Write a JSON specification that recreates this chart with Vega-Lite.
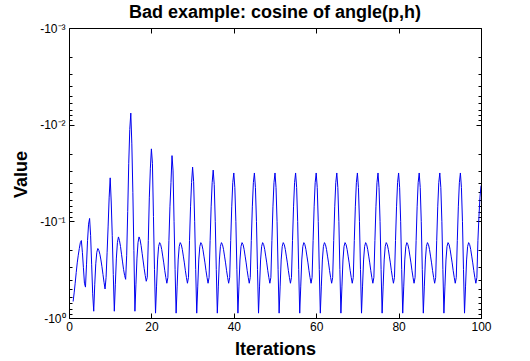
{
"$schema": "https://vega.github.io/schema/vega-lite/v6.json",
"width": 412, "height": 290,
"autosize": "none",
"padding": {"left": 69, "top": 28, "right": 49, "bottom": 43},
"background": "white",
"title": {"text": "Bad example: cosine of angle(p,h)", "font": "Liberation Sans", "fontSize": 18, "fontWeight": "bold", "color": "black", "anchor": "middle", "frame": "group", "baseline": "alphabetic", "offset": 10, "dy": 24},
"datasets": {"d": [
{"iter":1,"value":-0.676},{"iter":1.25,"value":-0.55},{"iter":1.5,"value":-0.437},{"iter":1.75,"value":-0.339},
{"iter":2,"value":-0.269},{"iter":2.25,"value":-0.224},{"iter":2.5,"value":-0.191},{"iter":2.75,"value":-0.166},
{"iter":3,"value":-0.158},{"iter":3.25,"value":-0.209},{"iter":3.5,"value":-0.302},{"iter":3.75,"value":-0.437},
{"iter":4,"value":-0.479},{"iter":4.25,"value":-0.282},{"iter":4.5,"value":-0.158},{"iter":4.75,"value":-0.107},
{"iter":5,"value":-0.0933},{"iter":5.25,"value":-0.141},{"iter":5.5,"value":-0.282},{"iter":5.75,"value":-0.562},
{"iter":6,"value":-0.851},{"iter":6.25,"value":-0.447},{"iter":6.5,"value":-0.275},{"iter":6.75,"value":-0.209},
{"iter":7,"value":-0.191},{"iter":7.25,"value":-0.2},{"iter":7.5,"value":-0.219},{"iter":7.75,"value":-0.251},
{"iter":8,"value":-0.295},{"iter":8.25,"value":-0.355},{"iter":8.5,"value":-0.427},{"iter":8.75,"value":-0.501},
{"iter":9,"value":-0.38},{"iter":9.25,"value":-0.209},{"iter":9.5,"value":-0.112},{"iter":9.75,"value":-0.0562},
{"iter":10,"value":-0.0355},{"iter":10.25,"value":-0.0631},{"iter":10.5,"value":-0.141},{"iter":10.75,"value":-0.355},
{"iter":11,"value":-0.851},{"iter":11.25,"value":-0.447},{"iter":11.5,"value":-0.24},{"iter":11.75,"value":-0.166},
{"iter":12,"value":-0.145},{"iter":12.25,"value":-0.158},{"iter":12.5,"value":-0.182},{"iter":12.75,"value":-0.219},
{"iter":13,"value":-0.263},{"iter":13.25,"value":-0.316},{"iter":13.5,"value":-0.363},{"iter":13.75,"value":-0.398},
{"iter":14,"value":-0.224},{"iter":14.25,"value":-0.0794},{"iter":14.5,"value":-0.0251},{"iter":14.75,"value":-0.0112},
{"iter":15,"value":-0.00759},{"iter":15.25,"value":-0.0158},{"iter":15.5,"value":-0.0501},{"iter":15.75,"value":-0.2},
{"iter":16,"value":-0.851},{"iter":16.25,"value":-0.447},{"iter":16.5,"value":-0.24},{"iter":16.75,"value":-0.166},
{"iter":17,"value":-0.145},{"iter":17.25,"value":-0.155},{"iter":17.5,"value":-0.178},{"iter":17.75,"value":-0.214},
{"iter":18,"value":-0.257},{"iter":18.25,"value":-0.309},{"iter":18.5,"value":-0.363},{"iter":18.75,"value":-0.417},
{"iter":19,"value":-0.38},{"iter":19.25,"value":-0.158},{"iter":19.5,"value":-0.0562},{"iter":19.75,"value":-0.0282},
{"iter":20,"value":-0.0178},{"iter":20.25,"value":-0.0251},{"iter":20.5,"value":-0.0891},{"iter":20.75,"value":-0.316},
{"iter":21,"value":-0.891},{"iter":21.25,"value":-0.468},{"iter":21.5,"value":-0.251},{"iter":21.75,"value":-0.182},
{"iter":22,"value":-0.166},{"iter":22.25,"value":-0.174},{"iter":22.5,"value":-0.195},{"iter":22.75,"value":-0.229},
{"iter":23,"value":-0.269},{"iter":23.25,"value":-0.324},{"iter":23.5,"value":-0.38},{"iter":23.75,"value":-0.437},
{"iter":24,"value":-0.38},{"iter":24.25,"value":-0.158},{"iter":24.5,"value":-0.0708},{"iter":24.75,"value":-0.0398},
{"iter":25,"value":-0.0209},{"iter":25.25,"value":-0.0295},{"iter":25.5,"value":-0.1},{"iter":25.75,"value":-0.316},
{"iter":26,"value":-0.891},{"iter":26.25,"value":-0.468},{"iter":26.5,"value":-0.251},{"iter":26.75,"value":-0.182},
{"iter":27,"value":-0.166},{"iter":27.25,"value":-0.174},{"iter":27.5,"value":-0.195},{"iter":27.75,"value":-0.229},
{"iter":28,"value":-0.269},{"iter":28.25,"value":-0.324},{"iter":28.5,"value":-0.38},{"iter":28.75,"value":-0.437},
{"iter":29,"value":-0.38},{"iter":29.25,"value":-0.158},{"iter":29.5,"value":-0.0708},{"iter":29.75,"value":-0.0398},
{"iter":30,"value":-0.0275},{"iter":30.25,"value":-0.0389},{"iter":30.5,"value":-0.1},{"iter":30.75,"value":-0.316},
{"iter":31,"value":-0.891},{"iter":31.25,"value":-0.468},{"iter":31.5,"value":-0.251},{"iter":31.75,"value":-0.182},
{"iter":32,"value":-0.166},{"iter":32.25,"value":-0.174},{"iter":32.5,"value":-0.195},{"iter":32.75,"value":-0.229},
{"iter":33,"value":-0.269},{"iter":33.25,"value":-0.324},{"iter":33.5,"value":-0.38},{"iter":33.75,"value":-0.437},
{"iter":34,"value":-0.38},{"iter":34.25,"value":-0.158},{"iter":34.5,"value":-0.0708},{"iter":34.75,"value":-0.0398},
{"iter":35,"value":-0.0295},{"iter":35.25,"value":-0.0417},{"iter":35.5,"value":-0.1},{"iter":35.75,"value":-0.316},
{"iter":36,"value":-0.891},{"iter":36.25,"value":-0.468},{"iter":36.5,"value":-0.251},{"iter":36.75,"value":-0.182},
{"iter":37,"value":-0.166},{"iter":37.25,"value":-0.174},{"iter":37.5,"value":-0.195},{"iter":37.75,"value":-0.229},
{"iter":38,"value":-0.269},{"iter":38.25,"value":-0.324},{"iter":38.5,"value":-0.38},{"iter":38.75,"value":-0.437},
{"iter":39,"value":-0.38},{"iter":39.25,"value":-0.158},{"iter":39.5,"value":-0.0708},{"iter":39.75,"value":-0.0398},
{"iter":40,"value":-0.0316},{"iter":40.25,"value":-0.0447},{"iter":40.5,"value":-0.1},{"iter":40.75,"value":-0.316},
{"iter":41,"value":-0.891},{"iter":41.25,"value":-0.468},{"iter":41.5,"value":-0.251},{"iter":41.75,"value":-0.182},
{"iter":42,"value":-0.166},{"iter":42.25,"value":-0.174},{"iter":42.5,"value":-0.195},{"iter":42.75,"value":-0.229},
{"iter":43,"value":-0.269},{"iter":43.25,"value":-0.324},{"iter":43.5,"value":-0.38},{"iter":43.75,"value":-0.437},
{"iter":44,"value":-0.38},{"iter":44.25,"value":-0.158},{"iter":44.5,"value":-0.0708},{"iter":44.75,"value":-0.0398},
{"iter":45,"value":-0.0316},{"iter":45.25,"value":-0.0447},{"iter":45.5,"value":-0.1},{"iter":45.75,"value":-0.316},
{"iter":46,"value":-0.891},{"iter":46.25,"value":-0.468},{"iter":46.5,"value":-0.251},{"iter":46.75,"value":-0.182},
{"iter":47,"value":-0.166},{"iter":47.25,"value":-0.174},{"iter":47.5,"value":-0.195},{"iter":47.75,"value":-0.229},
{"iter":48,"value":-0.269},{"iter":48.25,"value":-0.324},{"iter":48.5,"value":-0.38},{"iter":48.75,"value":-0.437},
{"iter":49,"value":-0.38},{"iter":49.25,"value":-0.158},{"iter":49.5,"value":-0.0708},{"iter":49.75,"value":-0.0398},
{"iter":50,"value":-0.0316},{"iter":50.25,"value":-0.0447},{"iter":50.5,"value":-0.1},{"iter":50.75,"value":-0.316},
{"iter":51,"value":-0.891},{"iter":51.25,"value":-0.468},{"iter":51.5,"value":-0.251},{"iter":51.75,"value":-0.182},
{"iter":52,"value":-0.166},{"iter":52.25,"value":-0.174},{"iter":52.5,"value":-0.195},{"iter":52.75,"value":-0.229},
{"iter":53,"value":-0.269},{"iter":53.25,"value":-0.324},{"iter":53.5,"value":-0.38},{"iter":53.75,"value":-0.437},
{"iter":54,"value":-0.38},{"iter":54.25,"value":-0.158},{"iter":54.5,"value":-0.0708},{"iter":54.75,"value":-0.0398},
{"iter":55,"value":-0.0316},{"iter":55.25,"value":-0.0447},{"iter":55.5,"value":-0.1},{"iter":55.75,"value":-0.316},
{"iter":56,"value":-0.891},{"iter":56.25,"value":-0.468},{"iter":56.5,"value":-0.251},{"iter":56.75,"value":-0.182},
{"iter":57,"value":-0.166},{"iter":57.25,"value":-0.174},{"iter":57.5,"value":-0.195},{"iter":57.75,"value":-0.229},
{"iter":58,"value":-0.269},{"iter":58.25,"value":-0.324},{"iter":58.5,"value":-0.38},{"iter":58.75,"value":-0.437},
{"iter":59,"value":-0.38},{"iter":59.25,"value":-0.158},{"iter":59.5,"value":-0.0708},{"iter":59.75,"value":-0.0398},
{"iter":60,"value":-0.0316},{"iter":60.25,"value":-0.0447},{"iter":60.5,"value":-0.1},{"iter":60.75,"value":-0.316},
{"iter":61,"value":-0.891},{"iter":61.25,"value":-0.468},{"iter":61.5,"value":-0.251},{"iter":61.75,"value":-0.182},
{"iter":62,"value":-0.166},{"iter":62.25,"value":-0.174},{"iter":62.5,"value":-0.195},{"iter":62.75,"value":-0.229},
{"iter":63,"value":-0.269},{"iter":63.25,"value":-0.324},{"iter":63.5,"value":-0.38},{"iter":63.75,"value":-0.437},
{"iter":64,"value":-0.38},{"iter":64.25,"value":-0.158},{"iter":64.5,"value":-0.0708},{"iter":64.75,"value":-0.0398},
{"iter":65,"value":-0.0316},{"iter":65.25,"value":-0.0447},{"iter":65.5,"value":-0.1},{"iter":65.75,"value":-0.316},
{"iter":66,"value":-0.891},{"iter":66.25,"value":-0.468},{"iter":66.5,"value":-0.251},{"iter":66.75,"value":-0.182},
{"iter":67,"value":-0.166},{"iter":67.25,"value":-0.174},{"iter":67.5,"value":-0.195},{"iter":67.75,"value":-0.229},
{"iter":68,"value":-0.269},{"iter":68.25,"value":-0.324},{"iter":68.5,"value":-0.38},{"iter":68.75,"value":-0.437},
{"iter":69,"value":-0.38},{"iter":69.25,"value":-0.158},{"iter":69.5,"value":-0.0708},{"iter":69.75,"value":-0.0398},
{"iter":70,"value":-0.0316},{"iter":70.25,"value":-0.0447},{"iter":70.5,"value":-0.1},{"iter":70.75,"value":-0.316},
{"iter":71,"value":-0.891},{"iter":71.25,"value":-0.468},{"iter":71.5,"value":-0.251},{"iter":71.75,"value":-0.182},
{"iter":72,"value":-0.166},{"iter":72.25,"value":-0.174},{"iter":72.5,"value":-0.195},{"iter":72.75,"value":-0.229},
{"iter":73,"value":-0.269},{"iter":73.25,"value":-0.324},{"iter":73.5,"value":-0.38},{"iter":73.75,"value":-0.437},
{"iter":74,"value":-0.38},{"iter":74.25,"value":-0.158},{"iter":74.5,"value":-0.0708},{"iter":74.75,"value":-0.0398},
{"iter":75,"value":-0.0316},{"iter":75.25,"value":-0.0447},{"iter":75.5,"value":-0.1},{"iter":75.75,"value":-0.316},
{"iter":76,"value":-0.891},{"iter":76.25,"value":-0.468},{"iter":76.5,"value":-0.251},{"iter":76.75,"value":-0.182},
{"iter":77,"value":-0.166},{"iter":77.25,"value":-0.174},{"iter":77.5,"value":-0.195},{"iter":77.75,"value":-0.229},
{"iter":78,"value":-0.269},{"iter":78.25,"value":-0.324},{"iter":78.5,"value":-0.38},{"iter":78.75,"value":-0.437},
{"iter":79,"value":-0.38},{"iter":79.25,"value":-0.158},{"iter":79.5,"value":-0.0708},{"iter":79.75,"value":-0.0398},
{"iter":80,"value":-0.0316},{"iter":80.25,"value":-0.0447},{"iter":80.5,"value":-0.1},{"iter":80.75,"value":-0.316},
{"iter":81,"value":-0.891},{"iter":81.25,"value":-0.468},{"iter":81.5,"value":-0.251},{"iter":81.75,"value":-0.182},
{"iter":82,"value":-0.166},{"iter":82.25,"value":-0.174},{"iter":82.5,"value":-0.195},{"iter":82.75,"value":-0.229},
{"iter":83,"value":-0.269},{"iter":83.25,"value":-0.324},{"iter":83.5,"value":-0.38},{"iter":83.75,"value":-0.437},
{"iter":84,"value":-0.38},{"iter":84.25,"value":-0.158},{"iter":84.5,"value":-0.0708},{"iter":84.75,"value":-0.0398},
{"iter":85,"value":-0.0316},{"iter":85.25,"value":-0.0447},{"iter":85.5,"value":-0.1},{"iter":85.75,"value":-0.316},
{"iter":86,"value":-0.891},{"iter":86.25,"value":-0.468},{"iter":86.5,"value":-0.251},{"iter":86.75,"value":-0.182},
{"iter":87,"value":-0.166},{"iter":87.25,"value":-0.174},{"iter":87.5,"value":-0.195},{"iter":87.75,"value":-0.229},
{"iter":88,"value":-0.269},{"iter":88.25,"value":-0.324},{"iter":88.5,"value":-0.38},{"iter":88.75,"value":-0.437},
{"iter":89,"value":-0.38},{"iter":89.25,"value":-0.158},{"iter":89.5,"value":-0.0708},{"iter":89.75,"value":-0.0398},
{"iter":90,"value":-0.0316},{"iter":90.25,"value":-0.0447},{"iter":90.5,"value":-0.1},{"iter":90.75,"value":-0.316},
{"iter":91,"value":-0.891},{"iter":91.25,"value":-0.468},{"iter":91.5,"value":-0.251},{"iter":91.75,"value":-0.182},
{"iter":92,"value":-0.166},{"iter":92.25,"value":-0.174},{"iter":92.5,"value":-0.195},{"iter":92.75,"value":-0.229},
{"iter":93,"value":-0.269},{"iter":93.25,"value":-0.324},{"iter":93.5,"value":-0.38},{"iter":93.75,"value":-0.437},
{"iter":94,"value":-0.38},{"iter":94.25,"value":-0.158},{"iter":94.5,"value":-0.0708},{"iter":94.75,"value":-0.0398},
{"iter":95,"value":-0.0316},{"iter":95.25,"value":-0.0447},{"iter":95.5,"value":-0.1},{"iter":95.75,"value":-0.316},
{"iter":96,"value":-0.891},{"iter":96.25,"value":-0.468},{"iter":96.5,"value":-0.251},{"iter":96.75,"value":-0.182},
{"iter":97,"value":-0.166},{"iter":97.25,"value":-0.174},{"iter":97.5,"value":-0.195},{"iter":97.75,"value":-0.229},
{"iter":98,"value":-0.269},{"iter":98.25,"value":-0.324},{"iter":98.5,"value":-0.38},{"iter":98.75,"value":-0.437},
{"iter":99,"value":-0.38},{"iter":99.25,"value":-0.158},{"iter":99.5,"value":-0.0891},{"iter":99.75,"value":-0.0562},
{"iter":100,"value":-0.0427}
]},
"data": {"name": "d"},
"config": {
  "view": {"stroke": "black", "strokeWidth": 1},
  "axis": {"domain": false, "grid": false, "labelFont": "Liberation Sans", "labelFontSize": 12, "labelColor": "black", "tickColor": "black", "tickWidth": 1, "titleFont": "Liberation Sans", "titleFontSize": 18, "titleFontWeight": "bold", "titleColor": "black"}
},
"layer": [
  {"mark": {"type": "line", "color": "#0000f0", "strokeWidth": 1, "clip": true},
   "encoding": {
     "x": {"field": "iter", "type": "quantitative", "scale": {"domain": [0, 100], "nice": false},
           "axis": {"orient": "bottom", "values": [0, 20, 40, 60, 80, 100], "tickSize": -5, "labelPadding": 8, "labelFlush": false, "title": "Iterations", "titleX": 206, "titleY": 31, "titleBaseline": "middle", "titleAlign": "center"}},
     "y": {"field": "value", "type": "quantitative", "scale": {"type": "log", "domain": [-1, -0.001], "nice": false, "zero": false},
           "axis": {"orient": "left", "values": [-1,-0.9,-0.8,-0.7,-0.6,-0.5,-0.4,-0.3,-0.2,-0.1,-0.09,-0.08,-0.07,-0.06,-0.05,-0.04,-0.03,-0.02,-0.01,-0.009,-0.008,-0.007,-0.006,-0.005,-0.004,-0.003,-0.002,-0.001],
             "labelExpr": "abs(log(-datum.value)/LN10 - round(log(-datum.value)/LN10)) < 0.001 ? ['-10⁰','-10⁻¹','-10⁻²','-10⁻³'][-round(log(-datum.value)/LN10)] : ''",
             "tickSize": {"condition": {"test": "abs(log(-datum.value)/LN10 - round(log(-datum.value)/LN10)) < 0.001", "value": -5}, "value": -3},
             "labelPadding": 9, "labelFlush": false, "labelOverlap": false,
             "title": "Value", "titleX": -48, "titleY": 146, "titleAngle": 270, "titleBaseline": "middle", "titleAlign": "center"}}
   }},
  {"mark": {"type": "line", "strokeOpacity": 0},
   "encoding": {
     "x": {"field": "iter", "type": "quantitative", "scale": {"domain": [0, 100], "nice": false},
           "axis": {"orient": "top", "values": [0, 20, 40, 60, 80, 100], "tickSize": -5, "labels": false, "title": null, "minExtent": 0, "maxExtent": 0}},
     "y": {"field": "value", "type": "quantitative", "scale": {"type": "log", "domain": [-1, -0.001], "nice": false, "zero": false},
           "axis": {"orient": "right", "values": [-1,-0.9,-0.8,-0.7,-0.6,-0.5,-0.4,-0.3,-0.2,-0.1,-0.09,-0.08,-0.07,-0.06,-0.05,-0.04,-0.03,-0.02,-0.01,-0.009,-0.008,-0.007,-0.006,-0.005,-0.004,-0.003,-0.002,-0.001],
             "tickSize": {"condition": {"test": "abs(log(-datum.value)/LN10 - round(log(-datum.value)/LN10)) < 0.001", "value": -5}, "value": -3},
             "labels": false, "title": null}}
   }}
],
"resolve": {"axis": {"x": "independent", "y": "independent"}}
}
